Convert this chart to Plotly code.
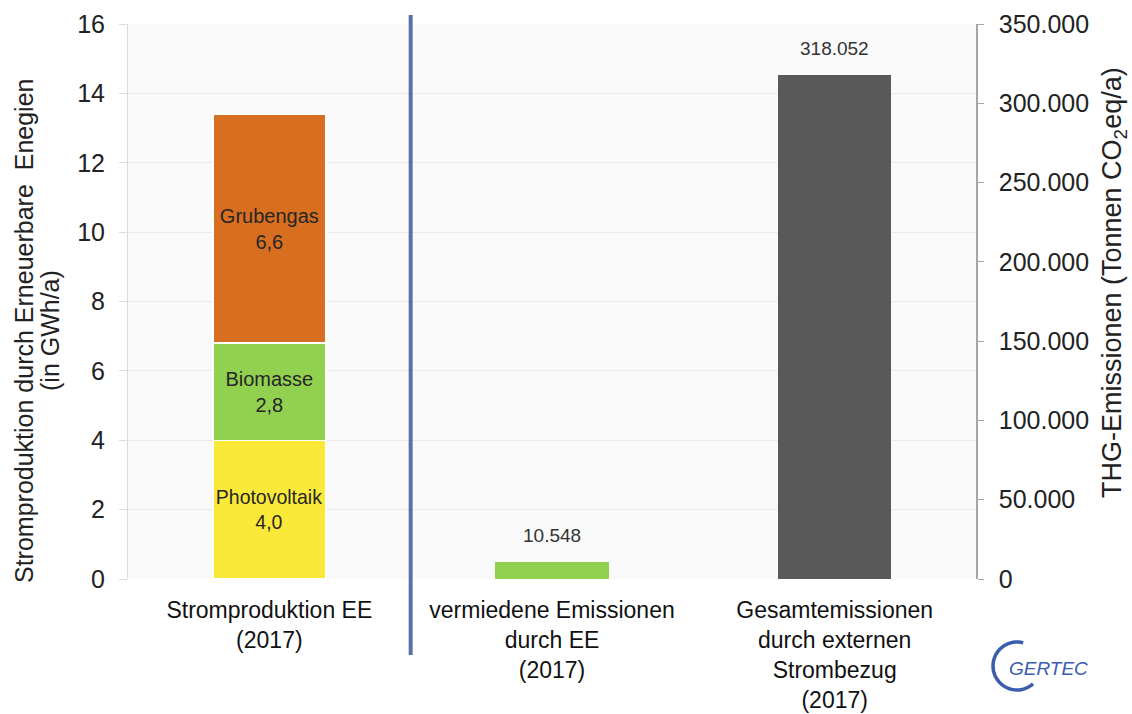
import numpy as np
import plotly.graph_objects as go

# Categories on the shared x axis
categories = [
    "Stromproduktion EE<br>(2017)",
    "vermiedene Emissionen<br>durch EE<br>(2017)",
    "Gesamtemissionen<br>durch externen<br>Strombezug<br>(2017)",
]

# Power production by renewable source (GWh/a), stacked in the first column
ee_sources = ["Photovoltaik", "Biomasse", "Grubengas"]
ee_values = [4.0, 2.8, 6.6]
ee_colors = ["#FBE93A", "#92D050", "#D86E1F"]

# GHG emissions (t CO2eq/a) on the right axis
emission_values = [10548, 318052]
emission_colors = ["#92D050", "#595959"]

# Axis ticks
left_ticks = [0, 2, 4, 6, 8, 10, 12, 14, 16]
right_ticks = [0, 50000, 100000, 150000, 200000, 250000, 300000, 350000]

left_title = ["Stromproduktion durch Erneuerbare  Enegien", "(in GWh/a)"]
right_title = "THG-Emissionen (Tonnen CO<sub>2</sub>eq/a)"

FONT = "Liberation Sans, Arial, sans-serif"
x_pos = list(range(len(categories)))

# Plot-area edges in pixels
W, H = 1132, 714
L, R, T, B = 128, 976, 24, 579


def px(xp):
    return (xp - L) / (R - L)


def py(yp):
    return (B - yp) / (B - T)


fig = go.Figure()

for name, val, col in zip(ee_sources, ee_values, ee_colors):
    fig.add_trace(go.Bar(
        x=[x_pos[0]], y=[val], name=name, width=0.4, text=[name],
        marker=dict(color=col, line=dict(color="white", width=1.5)),
        texttemplate="%{text}<br>%{y:.1f}",
        textposition="inside", insidetextanchor="middle", textangle=0,
        textfont=dict(size=20, color="#262626", family=FONT),
        yaxis="y", showlegend=False, hoverinfo="skip",
    ))

fig.add_trace(go.Bar(
    x=x_pos[1:], y=emission_values, width=0.4,
    marker=dict(color=emission_colors, line=dict(width=0)),
    yaxis="y2", showlegend=False, hoverinfo="skip",
))

# Value labels above the emission bars
for xv, val in zip(x_pos[1:], emission_values):
    fig.add_annotation(
        x=xv, y=val, xref="x", yref="y2", yanchor="bottom", yshift=14,
        text=f"{val:,}".replace(",", "."), showarrow=False,
        font=dict(size=19, color="#333333", family=FONT),
    )

# Axis titles
for text, xp in zip(left_title, [24, 50]):
    fig.add_annotation(
        x=px(xp), y=py(331), xref="paper", yref="paper",
        xanchor="center", yanchor="middle", textangle=-90,
        text=text, showarrow=False,
        font=dict(size=25, color="#222222", family=FONT),
    )
fig.add_annotation(
    x=px(1114), y=py(283), xref="paper", yref="paper",
    xanchor="center", yanchor="middle", textangle=-90,
    text=right_title, showarrow=False,
    font=dict(size=27, color="#222222", family=FONT),
)

# Separator between production and emissions
fig.add_shape(type="line", xref="x", yref="paper",
              x0=0.5, x1=0.5, y0=py(655), y1=py(15),
              line=dict(color="#5B72A6", width=4))

# GERTEC logo: arc plus lettering
ang = np.radians(np.linspace(75, 312, 40))
cx, cy, rad = 1017, 666, 24
pts = [(px(cx + rad * np.cos(a)), py(cy - rad * np.sin(a))) for a in ang]
path = "M " + " L ".join(f"{a:.5f},{b:.5f}" for a, b in pts)
fig.add_shape(type="path", xref="paper", yref="paper", path=path,
              line=dict(color="#3A5DAE", width=3.5))
fig.add_annotation(x=px(1048), y=py(668), xref="paper", yref="paper",
                   xanchor="center", yanchor="middle",
                   text="<i>GERTEC</i>", showarrow=False,
                   font=dict(size=19, color="#3A5DAE", family=FONT))

fig.update_layout(
    width=W, height=H,
    margin=dict(l=L, r=W - R, t=T, b=H - B, autoexpand=False),
    paper_bgcolor="white", plot_bgcolor="#FAFAFA",
    separators=",.",
    barmode="stack", bargap=0.6,
    font=dict(family=FONT, color="#222222"),
    uniformtext=dict(minsize=20, mode="show"),
    xaxis=dict(
        range=[-0.5, 2.5], tickvals=x_pos, ticktext=categories,
        showgrid=False, zeroline=False, showline=False, ticks="",
        tickfont=dict(size=23, color="#111111"), ticklabelstandoff=15,
        automargin=False,
    ),
    yaxis=dict(
        range=[0, 16], tickvals=left_ticks,
        showgrid=True, gridcolor="#EBEBEB", gridwidth=1,
        zeroline=False, showline=True, linecolor="#DCDCDC", linewidth=1,
        ticks="outside", ticklen=8, tickcolor="#DCDCDC",
        tickfont=dict(size=25, color="#222222"), ticklabelstandoff=9,
        automargin=False,
    ),
    yaxis2=dict(
        range=[0, 350000], tickvals=right_ticks, tickformat=",d",
        overlaying="y", side="right", showgrid=False, zeroline=False,
        showline=True, linecolor="#A6A6A6", linewidth=1.5,
        ticks="outside", ticklen=6, tickcolor="#A6A6A6",
        tickfont=dict(size=25, color="#222222"), ticklabelstandoff=10,
        automargin=False,
    ),
)

fig.write_html("out.html")
